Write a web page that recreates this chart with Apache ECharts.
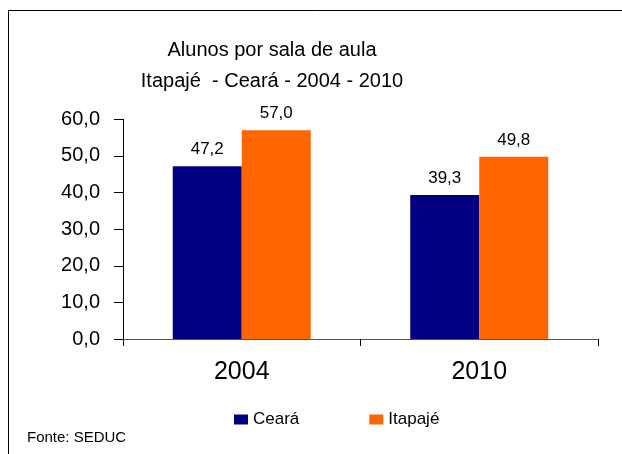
<!DOCTYPE html>
<html>
<head>
<meta charset="utf-8">
<script src="https://cdn.jsdelivr.net/npm/echarts@6/dist/echarts.min.js"></script>
<style>
html,body{margin:0;padding:0;background:#fff;}
#chart{width:622px;height:454px;}
</style>
</head>
<body>
<div id="chart"></div>
<script>
var categories = ['2004', '2010'];
var cearaValues = [47.2, 39.3];
var itapajeValues = [57.0, 49.8];
var seriesNames = ['Ceará', 'Itapajé'];
var titleLines = ['Alunos por sala de aula', 'Itapajé  - Ceará - 2004 - 2010'];
var sourceText = 'Fonte: SEDUC';

function fmt(v) { return Number(v).toFixed(1).replace('.', ','); }

var chart = echarts.init(document.getElementById('chart'), null, {renderer: 'canvas'});
var font = 'Liberation Sans, Arial, sans-serif';
var labelCommon = {
  show: true, position: 'top', distance: 8,
  fontFamily: font, fontSize: 17, color: '#000',
  formatter: function (p) { return fmt(p.value); }
};
chart.setOption({
  animation: false,
  backgroundColor: '#fff',
  title: {
    text: titleLines.join('\n'),
    left: 272, top: 35, textAlign: 'center', padding: 0,
    textStyle: {fontFamily: font, fontSize: 20, fontWeight: 'normal', color: '#000', lineHeight: 31}
  },
  legend: {
    data: seriesNames,
    left: 234, top: 411, padding: 0,
    itemWidth: 14, itemHeight: 10, itemGap: 70,
    icon: 'rect',
    textStyle: {fontFamily: font, fontSize: 17, color: '#000'}
  },
  grid: {left: 123, right: 24, top: 119.3, bottom: 115, containLabel: false},
  xAxis: {
    type: 'category',
    data: categories,
    axisLine: {lineStyle: {color: '#555', width: 1}},
    axisTick: {show: true, alignWithLabel: false, length: 7, lineStyle: {color: '#000'}},
    axisLabel: {fontFamily: font, fontSize: 25, color: '#000', margin: 21}
  },
  yAxis: {
    type: 'value', min: 0, max: 60, interval: 10,
    axisLine: {show: true, lineStyle: {color: '#000', width: 1}},
    axisTick: {show: true, length: 9, lineStyle: {color: '#000'}},
    splitLine: {show: false},
    axisLabel: {fontFamily: font, fontSize: 20, color: '#000', margin: 23, formatter: fmt}
  },
  series: [
    {name: seriesNames[0], type: 'bar', data: cearaValues, barWidth: 69, barGap: '0%',
     itemStyle: {color: '#000080'}, label: labelCommon},
    {name: seriesNames[1], type: 'bar', data: itapajeValues, barWidth: 69, barGap: '0%',
     itemStyle: {color: '#FF6600'}, label: labelCommon}
  ],
  graphic: [
    {type: 'rect', shape: {x: 8.5, y: 10.5, width: 640, height: 480}, style: {fill: null, stroke: '#000', lineWidth: 1}, silent: true},
    {type: 'text', left: 27, top: 430, style: {text: sourceText, fontFamily: font, fontSize: 15, fill: '#000'}}
  ]
});
</script>
</body>
</html>
